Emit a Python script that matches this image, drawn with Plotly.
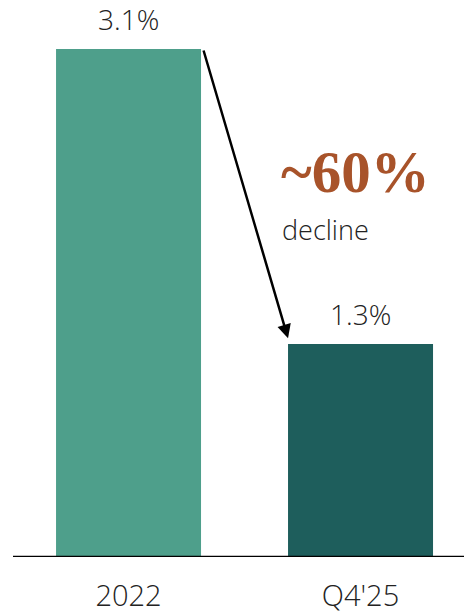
import plotly.graph_objects as go

categories = ["2022", "Q4'25"]
values = [3.1, 1.3]
value_labels = ["3.1%", "1.3%"]
bar_colors = ["#4E9F8B", "#1E5E5C"]
decline_label = "~60%"
decline_sub = "decline"

idx = list(range(len(categories)))
bar_w = 0.625

fig = go.Figure()
fig.add_trace(go.Bar(
    x=idx, y=values, width=bar_w,
    marker=dict(color=bar_colors, line=dict(width=0)),
    hoverinfo="skip",
))

label_font = dict(family="Open Sans", size=28, color="#222222", weight=300)

for i, (v, t) in enumerate(zip(values, value_labels)):
    fig.add_annotation(x=i, y=v, text=t, showarrow=False, yanchor="bottom",
                       yshift=10, borderpad=0, font=label_font)

# arrow from top-right of first bar to top-left of second bar
fig.add_annotation(
    x=idx[1] - bar_w / 2, y=values[1] + 0.035,
    ax=idx[0] + bar_w / 2 + 0.009, ay=values[0],
    xref="x", yref="y", axref="x", ayref="y",
    showarrow=True, arrowhead=2, arrowsize=1.1, arrowwidth=2.5,
    arrowcolor="#000000", text="",
)

fig.add_annotation(x=0.648, y=2.35, xref="x", yref="y", text="<b>" + decline_label + "</b>",
                   showarrow=False, xanchor="left", yanchor="middle",
                   font=dict(family="Liberation Serif", size=59, color="#A8532A"))
fig.add_annotation(x=0.655, y=2.00, xref="x", yref="y", text=decline_sub,
                   showarrow=False, xanchor="left", yanchor="middle",
                   font=dict(family="Open Sans", size=27, color="#222222", weight=300))

fig.update_layout(
    width=464, height=613,
    margin=dict(l=13, r=0, t=0, b=56, autoexpand=False),
    paper_bgcolor="white", plot_bgcolor="white",
    showlegend=False,
    xaxis=dict(range=[-0.498, 1.446], tickvals=idx, ticktext=categories,
               showgrid=False, zeroline=False, showline=False, automargin=False,
               ticks="outside", ticklen=13, tickcolor="rgba(0,0,0,0)",
               tickfont=dict(family="Open Sans", size=29, color="#222222", weight=300),
               fixedrange=True),
    yaxis=dict(range=[0, 3.399], visible=False, fixedrange=True, automargin=False),
    shapes=[dict(type="line", xref="paper", yref="y", x0=0, x1=1, y0=0, y1=0,
                 line=dict(color="#000000", width=2.5))],
)

fig.write_html("out.html", config={"displayModeBar": False},
               post_script="document.body.style.margin='0';document.body.style.overflow='hidden';")
